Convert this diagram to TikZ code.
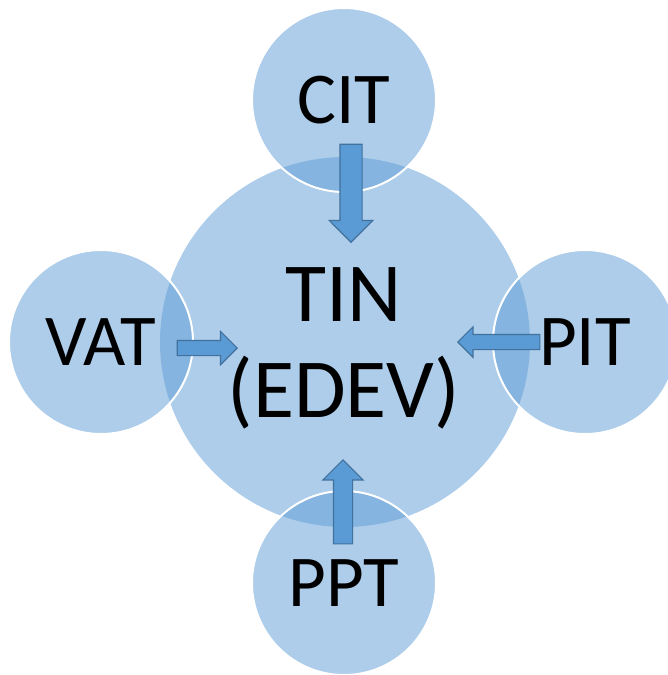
\documentclass[tikz,border=0pt]{standalone}
\usepackage{fontspec}
\setmainfont{Carlito}
\usetikzlibrary{shapes.arrows}
\definecolor{bubblefill}{HTML}{5B9BD5}
\definecolor{arrowline}{HTML}{41719C}

\begin{document}
\begin{tikzpicture}[x=1pt, y=-1pt,
	bubble/.style={circle, fill=bubblefill, fill opacity=0.5, text opacity=1,
		draw=white, line width=2pt, inner sep=0pt, minimum size=184pt,
		font=\fontsize{73}{80}\selectfont},
	blockarrow/.style={single arrow, draw=arrowline, fill=bubblefill,
		line width=1.2pt, inner sep=0pt, single arrow tip angle=90, anchor=tip}]
	
	\useasboundingbox (0,0) rectangle (668,675);
	
	% centre circle
	\node[bubble, draw=none, minimum size=370pt] (tin) at (345,342) {};
	\node[font=\fontsize{84}{96}\selectfont, align=center] (tinlabel) at (344,348) {TIN\\(EDEV)};
	
	% outer circles
	\node[bubble] (cit) at (344,100) {CIT};
	\node[bubble] (vat) at (101,342) {VAT};
	\node[bubble] (pit) at (585,342) {PIT};
	\node[bubble] (ppt) at (344,583) {PPT};
	
	% block arrows
	\node[blockarrow, rotate=-90, minimum height=98pt, inner ysep=10.5pt,
		single arrow head extend=10.5pt] (citarrow) at (351,243) {};
	\node[blockarrow, minimum height=60pt, inner ysep=7pt,
		single arrow head extend=9pt] (vatarrow) at (238,348) {};
	\node[blockarrow, rotate=180, minimum height=82pt, inner ysep=7pt,
		single arrow head extend=7.5pt] (pitarrow) at (457,342) {};
	\node[blockarrow, rotate=90, minimum height=84pt, inner ysep=9pt,
		single arrow head extend=10.5pt] (pptarrow) at (343,459) {};
\end{tikzpicture}
\end{document}
